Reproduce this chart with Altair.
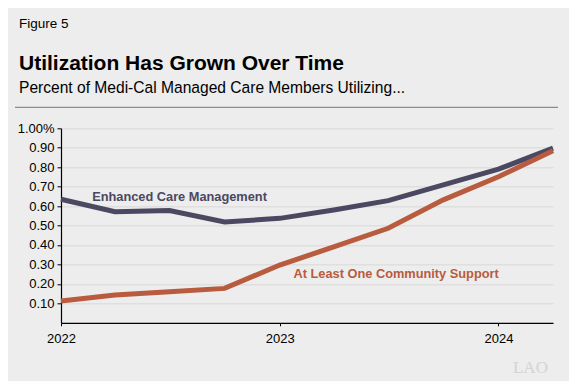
import altair as alt
import pandas as pd

quarters = ["2022-01-01", "2022-04-01", "2022-07-01", "2022-10-01",
            "2023-01-01", "2023-04-01", "2023-07-01", "2023-10-01",
            "2024-01-01", "2024-04-01"]
ecm = [0.635, 0.571, 0.577, 0.518, 0.537, 0.580, 0.628, 0.709, 0.790, 0.898]
cs = [0.112, 0.143, 0.160, 0.177, 0.297, 0.390, 0.486, 0.632, 0.751, 0.884]
series_names = ["Enhanced Care Management", "At Least One Community Support"]
colors = ["#4B4862", "#B95B3E"]
y_ticks = [0.1, 0.2, 0.3, 0.4, 0.5, 0.6, 0.7, 0.8, 0.9, 1.0]

rows = []
for d, a, b in zip(quarters, ecm, cs):
    rows.append({"date": d, "value": a, "series": series_names[0]})
    rows.append({"date": d, "value": b, "series": series_names[1]})
df = pd.DataFrame(rows)

labels = pd.DataFrame({
    "date": ["2022-02-22", "2023-01-24"],
    "value": [0.649, 0.251],
    "series": series_names,
})

FONT = "Liberation Sans"
W, H = 492, 194.5

x_scale = alt.Scale(domain=[alt.DateTime(year=2022, month=1, date=1),
                            alt.DateTime(year=2024, month=4, date=1)])
y_scale = alt.Scale(domain=[0, 1.0])
color_scale = alt.Scale(domain=series_names, range=colors)

x_axis = alt.Axis(values=[alt.DateTime(year=2022, month=1, date=1),
                          alt.DateTime(year=2023, month=1, date=1),
                          alt.DateTime(year=2024, month=1, date=1)],
                  format="%Y", grid=False, tickSize=3, labelPadding=7)
y_axis = alt.Axis(values=y_ticks,
                  labelExpr="datum.value == 1 ? '1.00%' : format(datum.value, '.2f')",
                  grid=True, tickSize=4, labelPadding=3)

lines = alt.Chart(df).mark_line(strokeWidth=5, strokeJoin="miter").encode(
    x=alt.X("date:T", scale=x_scale, title=None, axis=x_axis),
    y=alt.Y("value:Q", scale=y_scale, title=None, axis=y_axis),
    color=alt.Color("series:N", scale=color_scale, legend=None),
    detail="series:N",
)

line_labels = alt.Chart(labels).mark_text(
    align="left", baseline="middle", fontWeight="bold", fontSize=12.8,
    font=FONT
).encode(
    x=alt.X("date:T", scale=x_scale, title=None, axis=x_axis),
    y=alt.Y("value:Q", scale=y_scale, title=None, axis=y_axis),
    text="series:N",
    color=alt.Color("series:N", scale=color_scale, legend=None),
)

def txt(s, x, y, size, weight="normal", color="#000", font=FONT):
    return alt.Chart(pd.DataFrame({"t": [s]})).mark_text(
        align="left", baseline="alphabetic", fontSize=size, fontWeight=weight,
        color=color, font=font
    ).encode(x=alt.value(x), y=alt.value(y), text="t:N")

fig = txt("Figure 5", -42, -100.3, 13.5)
title = txt("Utilization Has Grown Over Time", -42, -58.3, 21, "bold")
subtitle = txt("Percent of Medi-Cal Managed Care Members Utilizing...", -42, -35.3, 15.6)
logo = txt("LAO", 452, 245, 17, color="#D3D4D3", font="Liberation Serif")

rule = alt.Chart(pd.DataFrame({"a": [0]})).mark_rule(color="#8C8C8C", strokeWidth=1.2).encode(
    x=alt.value(-46), x2=alt.value(497), y=alt.value(-21)
)

chart = alt.layer(lines, line_labels, fig, title, subtitle, logo, rule).properties(
    width=W, height=H,
    padding={"left": 53, "top": 120.3, "right": 16, "bottom": 58},
    autosize=alt.AutoSizeParams(type="none"),
    background="#ECEDEC",
).configure_view(stroke=None).configure_axis(
    domainColor="#000", domainWidth=1.2, tickColor="#000",
    labelFontSize=13, labelColor="#000", labelFont=FONT,
    labelOverlap=False, labelFlush=False, labelBound=False,
    gridColor="#D8D9D8", gridWidth=1,
)

chart.save("out.html", embed_options={"renderer": "svg", "actions": False})
